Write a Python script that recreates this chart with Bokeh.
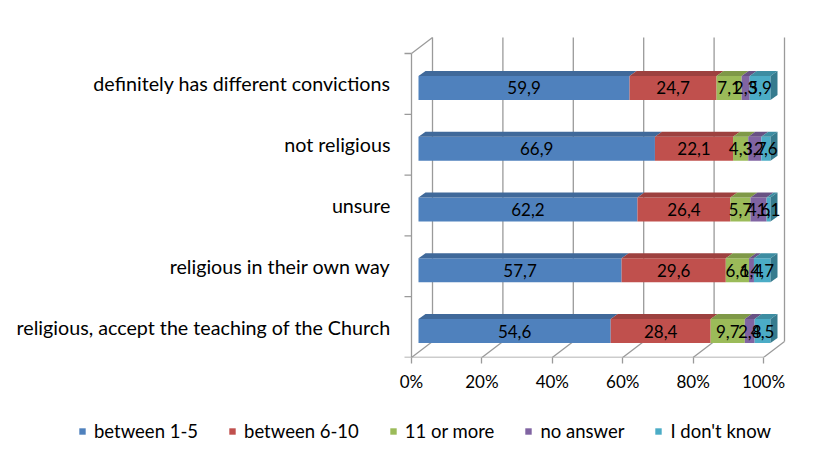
from bokeh.plotting import figure
from bokeh.layouts import column
from bokeh.models import Range1d, FixedTicker, ColumnDataSource, Legend, LegendItem
from bokeh.core.properties import value
from bokeh.embed import file_html
from bokeh.resources import INLINE

# ---------------- data ----------------
categories = ["religious, accept the teaching of the Church",
              "religious in their own way",
              "unsure",
              "not religious",
              "definitely has different convictions"]
series_names = ["between 1-5", "between 6-10", "11 or more", "no answer", "I don't know"]
between_1_5 = [54.6, 57.7, 62.2, 66.9, 59.9]
between_6_10 = [28.4, 29.6, 26.4, 22.1, 24.7]
eleven_or_more = [9.7, 6.6, 5.7, 4.3, 7.1]
no_answer = [2.8, 1.4, 4.6, 3.7, 2.3]
dont_know = [4.5, 4.7, 1.1, 2.6, 5.9]
x_ticks = [0, 20, 40, 60, 80, 100]
colors = ["#4F81BD", "#C0504D", "#9BBB59", "#8064A2", "#4BACC6"]

series = [between_1_5, between_6_10, eleven_or_more, no_answer, dont_know]

# ---------------- geometry (pixel-based styling) ----------------
W, H = 808, 405
LEG_H = 39
BL, BR, BT = 400, 8, 30
FRAME_W = W - BL - BR
FRAME_H = 327
BB = H - BT - FRAME_H
PX_X = 3.52      # px per percent
PX_Y = 60.8      # px per category
X0_PX = 11       # 0% sits 11px right of frame left
DX, DY = 21 / PX_X, 16 / PX_Y          # back wall depth
BX, BY = 7 / PX_X, -4 / PX_Y           # bar front face offset
BH = 12 / PX_Y                          # half bar height
BDX, BDY = 7 / PX_X, 5 / PX_Y           # bar depth
GRID = "#9a9a9a"
FONT = "Lato"


def shade(hx, f):
    hx = hx.lstrip("#")
    r, g, b = (int(hx[i:i + 2], 16) for i in (0, 2, 4))
    return "#%02x%02x%02x" % (int(r * f), int(g * f), int(b * f))


n_cat = len(categories)
p = figure(width=W, height=H, output_backend="svg", toolbar_location=None,
           title=None,
           x_range=Range1d(-X0_PX / PX_X, (FRAME_W - X0_PX) / PX_X),
           y_range=Range1d(-0.5, -0.5 + FRAME_H / PX_Y),
           min_border_left=BL, min_border_right=BR,
           min_border_top=BT, min_border_bottom=BB)
p.outline_line_color = None
p.grid.visible = False
p.background_fill_color = "white"
p.border_fill_color = "white"
p.frame_align = False

# ---------------- 3D walls ----------------
y_lo, y_hi = -0.5, n_cat - 0.5
gx0 = [t + DX for t in x_ticks]
p.segment(x0=gx0, y0=[y_lo + DY] * len(x_ticks), x1=gx0, y1=[y_hi + DY] * len(x_ticks),
          line_color=GRID, line_width=1.3)
p.segment(x0=x_ticks, y0=[y_lo] * len(x_ticks), x1=gx0, y1=[y_lo + DY] * len(x_ticks),
          line_color=GRID, line_width=1.3)
p.segment(x0=[x_ticks[0], x_ticks[0], x_ticks[0]],
          y0=[y_lo, y_lo, y_hi],
          x1=[x_ticks[-1], x_ticks[0], x_ticks[0] + DX],
          y1=[y_lo, y_hi, y_hi + DY],
          line_color=GRID, line_width=1.3)
bounds = [k - 0.5 for k in range(n_cat + 1)]
p.segment(x0=[-7 / PX_X] * len(bounds), y0=bounds, x1=[0] * len(bounds), y1=bounds,
          line_color=GRID, line_width=1.3)

# ---------------- bars ----------------
totals = [sum(s[i] for s in series) for i in range(n_cat)]
cum = [0.0] * n_cat
label_x, label_y, label_t = [], [], []
sources = []
for k, (vals, col, name) in enumerate(zip(series, colors, series_names)):
    left = [cum[i] / totals[i] * 100 for i in range(n_cat)]
    right = [(cum[i] + vals[i]) / totals[i] * 100 for i in range(n_cat)]
    cum = [cum[i] + vals[i] for i in range(n_cat)]
    yc = [i + BY for i in range(n_cat)]
    src = ColumnDataSource(dict(left=[l + BX for l in left], right=[r + BX for r in right],
                                bottom=[c - BH for c in yc], top=[c + BH for c in yc]))
    sources.append(src)
    p.quad(left="left", right="right", bottom="bottom", top="top", source=src,
           fill_color=col, line_color=None)
    top_xs = [[l + BX, r + BX, r + BX + BDX, l + BX + BDX] for l, r in zip(left, right)]
    top_ys = [[c + BH, c + BH, c + BH + BDY, c + BH + BDY] for c in yc]
    p.patches(xs=top_xs, ys=top_ys, fill_color=shade(col, 0.82), line_color=None)
    if k == len(series) - 1:
        side_xs = [[r + BX, r + BX + BDX, r + BX + BDX, r + BX] for r in right]
        side_ys = [[c - BH, c - BH + BDY, c + BH + BDY, c + BH] for c in yc]
        p.patches(xs=side_xs, ys=side_ys, fill_color=shade(col, 0.72), line_color=None)
    for i in range(n_cat):
        label_x.append((left[i] + right[i]) / 2 + BX)
        label_y.append(yc[i])
        label_t.append(("%.1f" % vals[i]).replace(".", ","))

p.text(x=label_x, y=label_y, text=label_t, text_align="center", text_baseline="middle",
       text_font=value(FONT), text_font_size="17px", text_color="#000000")

# ---------------- axes ----------------
xa = p.xaxis[0]
xa.ticker = FixedTicker(ticks=x_ticks)
xa.major_label_overrides = {t: "%d%%" % t for t in x_ticks}
xa.axis_line_color = None
xa.major_tick_out = 6
xa.major_tick_in = 0
xa.major_tick_line_color = GRID
xa.major_tick_line_width = 1.3
xa.minor_tick_line_color = None
xa.major_label_standoff = 7
xa.major_label_text_font = FONT
xa.major_label_text_font_size = "17px"
xa.major_label_text_color = "#000000"

ya = p.yaxis[0]
ya.ticker = FixedTicker(ticks=list(range(n_cat)))
ya.major_label_overrides = {i: c for i, c in enumerate(categories)}
ya.axis_line_color = None
ya.major_tick_line_color = None
ya.minor_tick_line_color = None
ya.major_label_standoff = 4
ya.major_label_text_font = FONT
ya.major_label_text_font_size = "19.7px"
ya.major_label_text_color = "#000000"

# ---------------- legend strip ----------------
pl = figure(width=W, height=LEG_H, output_backend="svg", toolbar_location=None,
            title=None, x_axis_type=None, y_axis_type=None,
            x_range=Range1d(1000, 1001), y_range=Range1d(1000, 1001),
            min_border_left=0, min_border_right=0, min_border_top=0, min_border_bottom=0)
pl.outline_line_color = None
pl.grid.visible = False
pl.frame_align = False
items = []
for src, col, name in zip(sources, colors, series_names):
    r = pl.quad(left="left", right="right", bottom="bottom", top="top", source=src,
                fill_color=col, line_color=None)
    items.append(LegendItem(label=name, renderers=[r]))
legend = Legend(items=items, orientation="horizontal", location=(78, 2),
                border_line_color=None, background_fill_alpha=0,
                label_text_font=FONT, label_text_font_size="18.5px",
                label_text_color="#000000",
                glyph_width=8, glyph_height=8, label_standoff=8, spacing=30,
                padding=0, margin=0)
pl.add_layout(legend)

open("out.html", "w").write(file_html(column(p, pl, spacing=0), INLINE))
